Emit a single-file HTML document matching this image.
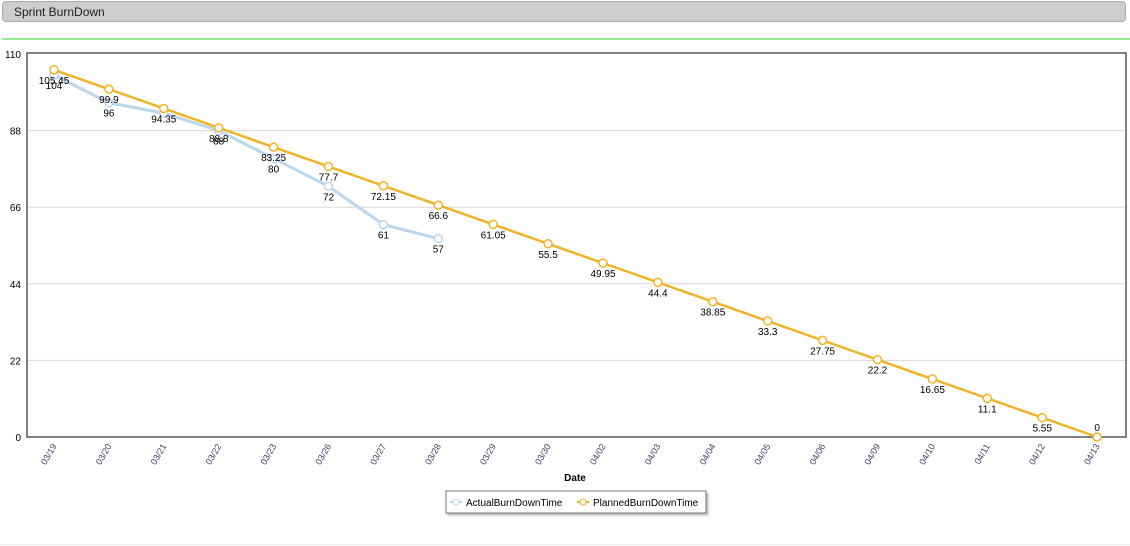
<!DOCTYPE html>
<html><head><meta charset="utf-8"><style>
body{margin:0;width:1130px;height:546px;background:#fff;overflow:hidden;font-family:"Liberation Sans",sans-serif;}
#hdr{position:absolute;left:2px;top:1px;width:1124px;height:21px;background:#cdcdcd;border:1px solid #aaa;border-radius:4px;font-size:12px;line-height:21px;padding-left:11px;box-sizing:border-box;color:#222;}
#g{position:absolute;left:2px;top:38px;width:1128px;height:2px;background:#98e898;}
#b{position:absolute;left:0;top:544px;width:1130px;height:1px;background:#eee;}
svg{position:absolute;left:0;top:0;}
</style></head><body>
<div id="hdr">Sprint BurnDown</div><div id="g"></div><div id="b"></div>
<svg id="s" width="1130" height="546" font-family="Liberation Sans, sans-serif" font-size="10"></svg>
<script>
var s=document.getElementById('s'),h='';
function Y(v){return 437-v*383/110;}
function X(i){return 54+i*54.9;}
[22,44,66,88].forEach(function(v){h+='<line x1="27" x2="1125" y1="'+Y(v)+'" y2="'+Y(v)+'" stroke="#d8d8d8"/>';});
[0,22,44,66,88,110].forEach(function(v){h+='<text x="21" y="'+(Y(v)+4)+'" text-anchor="end" fill="#000">'+v+'</text>';});
h+='<rect x="27" y="53" width="1099" height="384" fill="none" stroke="#555" stroke-width="1.5"/>';
var d=['03/19','03/20','03/21','03/22','03/23','03/26','03/27','03/28','03/29','03/30','04/02','04/03','04/04','04/05','04/06','04/09','04/10','04/11','04/12','04/13'];
d.forEach(function(t,i){var x=X(i);h+='<text transform="translate('+(x+3)+',446) rotate(-60)" text-anchor="end" font-size="9" fill="#446">'+t+'</text>';});
var a=[104,96,93,88,80,72,61,57],p=[];for(var i=0;i<20;i++)p.push(Math.round((105.45-5.55*i)*100)/100);
function pl(arr,c,w){return '<polyline fill="none" stroke="'+c+'" stroke-width="'+w+'" points="'+arr.map(function(v,i){return X(i)+','+Y(v)}).join(' ')+'"/>';}
h+=pl(a,'#bcd6ee',3);h+=pl(p,'#f0b429',2.5);
a.forEach(function(v,i){h+='<circle cx="'+X(i)+'" cy="'+Y(v)+'" r="4" fill="#fff" stroke="#bcd6ee" stroke-width="1.5"/>';if(i!=2)h+='<text x="'+X(i)+'" y="'+(Y(v)+14)+'" text-anchor="middle">'+v+'</text>';});
p.forEach(function(v,i){h+='<circle cx="'+X(i)+'" cy="'+Y(v)+'" r="4" fill="#fff" stroke="#f0b429" stroke-width="1.5"/>';var yy=i==19?Y(v)-6:Y(v)+14;h+='<text x="'+X(i)+'" y="'+yy+'" text-anchor="middle">'+v+'</text>';});
h+='<text x="575" y="481" text-anchor="middle" font-weight="bold">Date</text>';
h+='<rect x="446" y="491" width="260" height="22" fill="#fff" stroke="#777" style="filter:drop-shadow(2px 2px 1px #bbb)"/>';
h+='<line x1="450" x2="462" y1="502" y2="502" stroke="#bcd6ee" stroke-width="2"/><circle cx="456" cy="502" r="3" fill="#fff" stroke="#bcd6ee"/><text x="466" y="506">ActualBurnDownTime</text>';
h+='<line x1="577" x2="589" y1="502" y2="502" stroke="#f0b429" stroke-width="2"/><circle cx="583" cy="502" r="3" fill="#fff" stroke="#f0b429"/><text x="593" y="506">PlannedBurnDownTime</text>';
s.innerHTML=h;
</script>
</body></html>
